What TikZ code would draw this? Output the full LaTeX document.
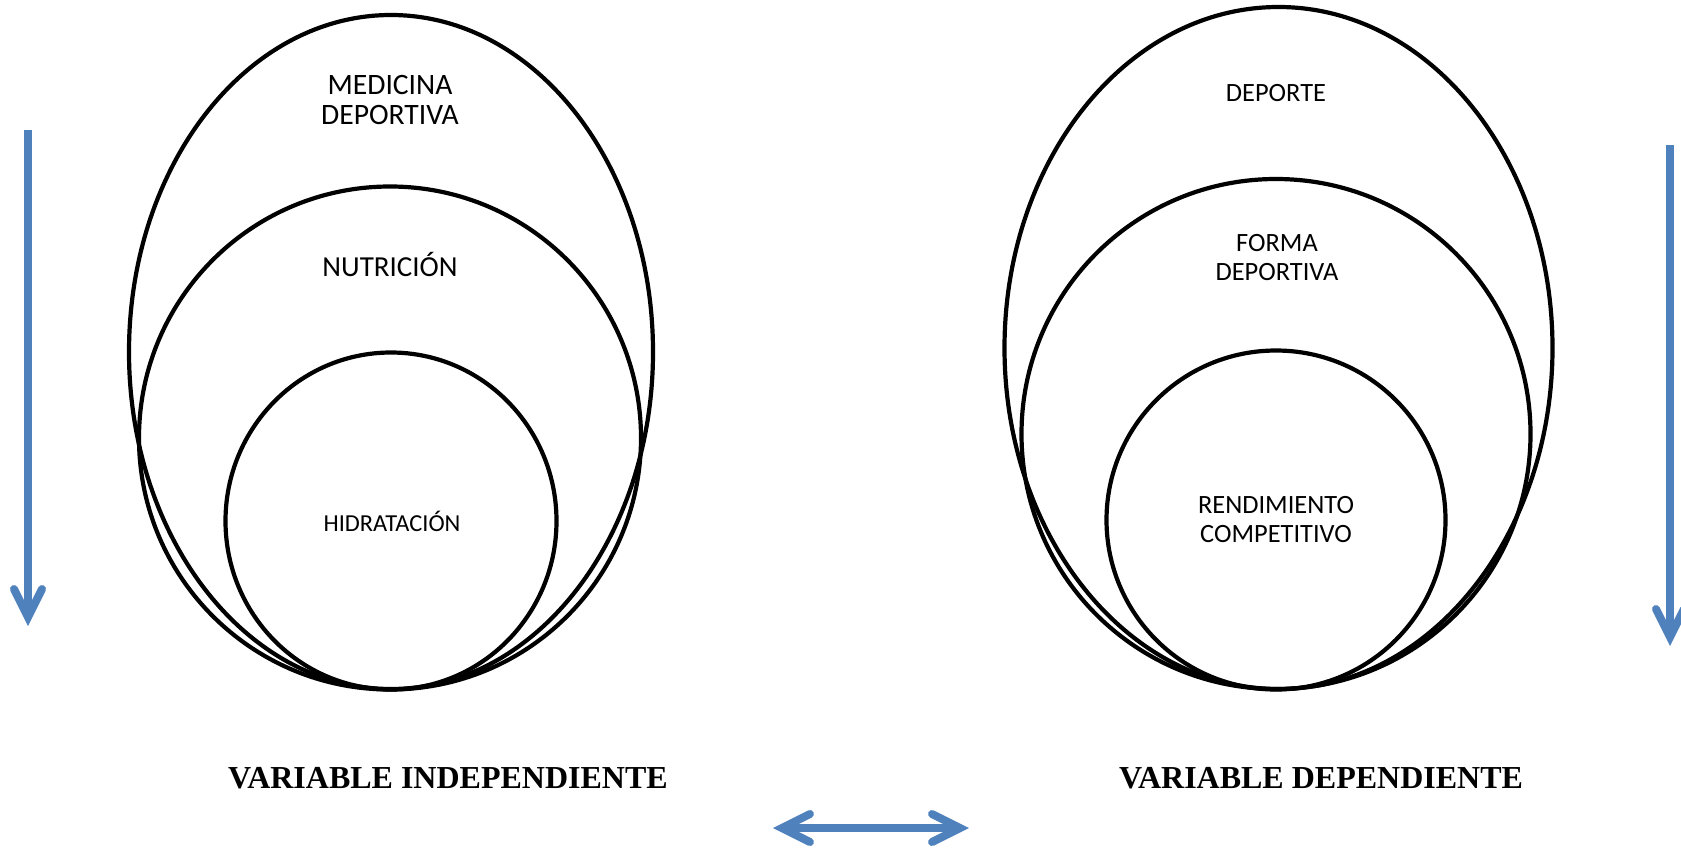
\documentclass[tikz,border=0pt]{standalone}
\usepackage{fontspec}
\setmainfont{Carlito}
\newfontfamily\titlefont{Liberation Serif}
\usetikzlibrary{shapes.geometric,arrows.meta}
\definecolor{arrowblue}{HTML}{4F81BD}
\begin{document}
\begin{tikzpicture}[x=0.5pt,y=-0.5pt,
  ring/.style={draw=black,line width=2.1pt,ellipse,inner sep=0pt,outer sep=0pt},
  lbl/.style={align=center,inner sep=0pt,font=\fontsize{14.8}{15}\selectfont},
  lblr/.style={align=center,inner sep=0pt,font=\fontsize{13.2}{14.5}\selectfont},
  ttl/.style={inner sep=0pt,font=\titlefont\bfseries\fontsize{16}{18}\selectfont},
  barb/.tip={Straight Barb[length=14pt,width=14pt,line cap=round,line join=miter]},
  barrow/.style={draw=arrowblue,line width=4pt,-barb},
  darrow/.style={draw=arrowblue,line width=4pt,barb-barb}]
\useasboundingbox (0,0) rectangle (1681,851);
% left group
\node[ring,minimum width=262pt,minimum height=337pt] (lo) at (391,352) {};
\node[ring,minimum width=251pt,minimum height=251.5pt] (lm) at (390,438) {};
\node[ring,minimum width=165.5pt,minimum height=168.5pt] (li) at (391,521) {};
\node[lbl] (t1) at (390,100) {MEDICINA\\DEPORTIVA};
\node[lbl,font=\fontsize{14.5}{15}\selectfont] (t2) at (390,264) {NUTRICIÓN};
\node[lbl,font=\fontsize{12.2}{13}\selectfont] (t3) at (392,521) {HIDRATACIÓN};
% right group
\node[ring,minimum width=274pt,minimum height=341pt] (ro) at (1278.5,348) {};
\node[ring,minimum width=254.5pt,minimum height=255pt] (rm) at (1276,434) {};
\node[ring,minimum width=169.5pt,minimum height=169.5pt] (ri) at (1276,520) {};
\node[lblr] (t4) at (1276,93) {DEPORTE};
\node[lblr] (t5) at (1277,258) {FORMA\\DEPORTIVA};
\node[lblr] (t6) at (1276,520) {RENDIMIENTO\\COMPETITIVO};
% titles
\node[ttl] (v1) at (448,778) {VARIABLE INDEPENDIENTE};
\node[ttl] (v2) at (1321,778) {VARIABLE DEPENDIENTE};
% arrows
\coordinate (a1) at (28,130);
\coordinate (a2) at (28,626);
\coordinate (b1) at (1670,145);
\coordinate (b2) at (1670,646);
\coordinate (c1) at (773,828);
\coordinate (c2) at (969,828);
\draw[barrow] (a1) -- (a2);
\draw[barrow] (b1) -- (b2);
\draw[darrow] (c1) -- (c2);
\end{tikzpicture}
\end{document}
